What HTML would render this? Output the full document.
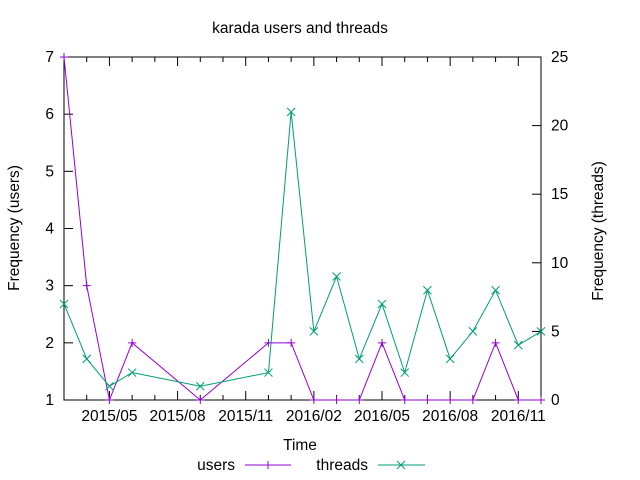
<!DOCTYPE html>
<html><head><meta charset="utf-8"><style>body{margin:0;background:#fff}svg{display:block;font-family:"Liberation Sans",sans-serif}</style></head>
<body>
<svg id="chart" width="640" height="480"></svg>
<script>
const months = [0,1,2,3,6,9,10,11,12,13,14,15,16,17,18,19,20,21]; // months since 2015/03
const users = [7,3,1,2,1,2,2,1,1,1,2,1,1,1,1,2,1,1];
const threads = [7,3,1,2,1,2,21,5,9,3,7,2,8,3,5,8,4,5];
const xTickMonths = [2,5,8,11,14,17,20];
const xTickLabels = ["2015/05","2015/08","2015/11","2016/02","2016/05","2016/08","2016/11"];
const yTicks = [1,2,3,4,5,6,7];
const y2Ticks = [0,5,10,15,20,25];

const L=64,R=541,T=57,B=400,NS="http://www.w3.org/2000/svg",FS=15.5;
const svg=document.getElementById('chart');
const xs=m=>L+(R-L)*m/21;
const ys=v=>B-(B-T)*(v-1)/6;
const y2s=v=>B-(B-T)*v/25;
function el(t,a,p){const e=document.createElementNS(NS,t);for(const k in a)e.setAttribute(k,a[k]);(p||svg).appendChild(e);return e;}
function txt(x,y,s,anchor,extra){const e=el('text',Object.assign({x:x,y:y,'font-size':FS,fill:'#000','text-anchor':anchor||'middle'},extra||{}));e.textContent=s;return e;}

const border=el('rect',{x:L,y:T,width:R-L,height:B-T,fill:'none',stroke:'#000','stroke-width':1});



for(let m=0;m<=21;m++){
  const big=xTickMonths.includes(m);const len=big?9:5;
  el('line',{x1:xs(m),x2:xs(m),y1:B,y2:B-len,stroke:'#000'});
  el('line',{x1:xs(m),x2:xs(m),y1:T,y2:T+len,stroke:'#000'});
}
xTickMonths.forEach((m,i)=>{const t=txt(xs(m),B+21,xTickLabels[i]);

});
yTicks.forEach(v=>{el('line',{x1:L,x2:L+9,y1:ys(v),y2:ys(v),stroke:'#000'});
const t=txt(L-10,ys(v)+5,String(v),'end');

});
y2Ticks.forEach(v=>{el('line',{x1:R,x2:R-9,y1:y2s(v),y2:y2s(v),stroke:'#000'});
const t=txt(R+10,y2s(v)+5,String(v),'start');

});

let t=txt(300,33,'karada users and threads');


t=txt(300,450,'Time');


t=txt(0,0,'Frequency (users)','middle',{transform:'translate(19,228) rotate(-90)'});


t=txt(0,0,'Frequency (threads)','middle',{transform:'translate(603,231) rotate(-90)'});



function plus(x,y,c,g){el('path',{d:`M${x-4} ${y}H${x+4}M${x} ${y-4}V${y+4}`,stroke:c,fill:'none'},g);}
function cross(x,y,c,g){el('path',{d:`M${x-4} ${y-4}L${x+4} ${y+4}M${x-4} ${y+4}L${x+4} ${y-4}`,stroke:c,fill:'none'},g);}

const gu=el('g',{});


el('polyline',{points:months.map((m,i)=>xs(m)+','+ys(users[i])).join(' '),fill:'none',stroke:'#9400d3'},gu);
months.forEach((m,i)=>plus(xs(m),ys(users[i]),'#9400d3',gu));

const gt=el('g',{});


el('polyline',{points:months.map((m,i)=>xs(m)+','+y2s(threads[i])).join(' '),fill:'none',stroke:'#009e73'},gt);
months.forEach((m,i)=>cross(xs(m),y2s(threads[i]),'#009e73',gt));

const lu=el('g',{});


let lt=el('text',{x:235,y:470,'font-size':FS,'text-anchor':'end'},lu);lt.textContent='users';
el('line',{x1:245,x2:291,y1:465,y2:465,stroke:'#9400d3'},lu);plus(268,465,'#9400d3',lu);
const lth=el('g',{});


lt=el('text',{x:368,y:470,'font-size':FS,'text-anchor':'end'},lth);lt.textContent='threads';
el('line',{x1:378,x2:425,y1:465,y2:465,stroke:'#009e73'},lth);cross(401,465,'#009e73',lth);
</script>
</body></html>
